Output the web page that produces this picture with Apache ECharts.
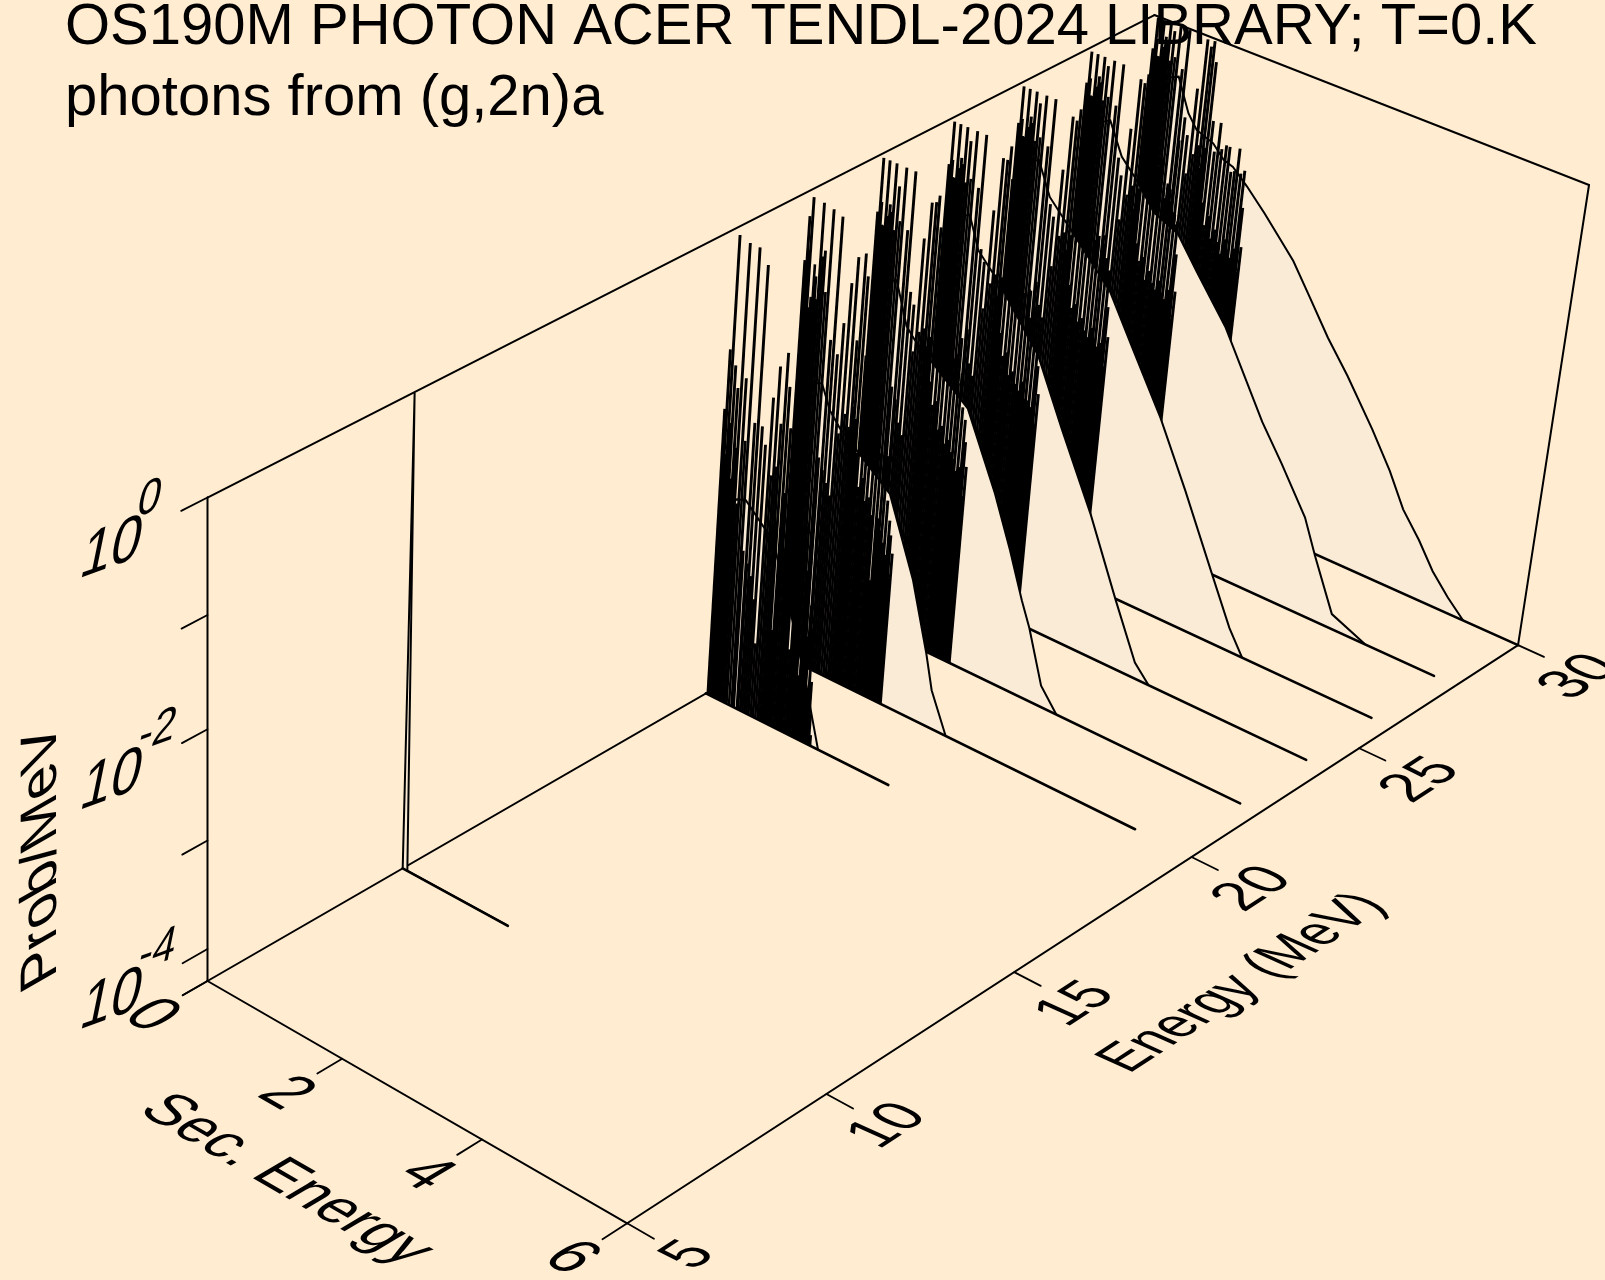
<!DOCTYPE html>
<html><head><meta charset="utf-8">
<style>html,body{margin:0;padding:0;background:#FFECD1}#c{width:1605px;height:1280px}</style>
<script src="https://cdn.jsdelivr.net/npm/echarts@6/dist/echarts.min.js"></script>
</head><body><div id="c"></div>
<script>
const titleLines = ['OS190M PHOTON ACER TENDL-2024 LIBRARY; T=0.K', 'photons from (g,2n)a'];
const secTicks = [0, 2, 4, 6];
const energyTicks = [5, 10, 15, 20, 25, 30];
const logProbMajor = [0, -2, -4];
const logProbMinor = [-1, -3];
const LOG_MIN = -4.301;

const incident = [30, 28, 26, 24, 22, 20, 18, 9.87];
const baselineEnd = [6, 5.7, 5.72, 5.72, 5.73, 5.22, 2.71, 1.57];

const contSec30 = [0.02,0.30,0.43,0.62,0.76,1.01,1.18,1.32,1.54,1.83,2.11,2.30,2.57,2.90,3.23,3.66,3.97,4.22,4.49,4.73,4.98,5.23];
const contLog30 = [-0.62,-0.50,-0.46,-0.75,-0.87,-0.93,-1.04,-1.07,-1.19,-1.37,-1.56,-1.69,-1.94,-2.25,-2.52,-2.91,-3.22,-3.52,-3.74,-3.97,-4.15,-4.30];
const contSec28 = [0.02,0.28,0.41,0.62,0.84,1.15,1.51,1.83,2.31,2.96,3.29,3.70,3.90,4.23,4.73];
const contLog28 = [-0.70,-0.60,-0.55,-0.83,-0.97,-1.21,-1.31,-1.58,-1.97,-2.68,-2.98,-3.38,-3.69,-4.16,-4.30];
const contSec26 = [0.02,0.25,0.36,0.56,0.83,1.52,1.92,2.40,2.85,3.35,3.67,3.89];
const contLog26 = [-0.80,-0.65,-0.60,-0.89,-1.06,-1.50,-1.93,-2.44,-3.00,-3.66,-4.08,-4.30];
const contSec24 = [0.02,0.25,0.38,0.54,0.87,1.51,1.93,2.45,2.91,3.27,3.49];
const contLog24 = [-1.00,-0.82,-0.77,-1.05,-1.26,-1.76,-2.32,-2.98,-3.65,-4.15,-4.30];
const contSec22 = [0.02,0.25,0.37,0.56,0.69,1.51,1.99,2.27,2.50,2.64,2.88,3.13];
const contLog22 = [-1.30,-1.08,-1.03,-1.40,-1.49,-1.89,-2.54,-2.99,-3.40,-3.62,-4.10,-4.30];
const contSec20 = [0.02,0.25,0.39,0.53,0.69,1.46,1.88,2.15,2.27,2.52];
const contLog20 = [-1.90,-1.66,-1.62,-1.83,-1.95,-2.33,-3.01,-3.62,-3.94,-4.30];
const contSec18 = [0.02,0.28,0.41,0.68,0.83,1.15,1.46,1.56,1.68];
const contLog18 = [-2.60,-2.36,-2.33,-2.49,-2.57,-3.15,-3.78,-4.02,-4.30];
const contSec10 = [0,0.01,0.07,1.57];
const contLog10 = [-4.30,0,-4.30,-4.30];

const lineSec = [0.03,0.06,0.10,0.15,0.20,0.25,0.31,0.39,0.47,0.52,0.58,0.64,0.71,0.78,0.84,0.88,0.93,0.98,1.04,1.09,1.14,1.20,1.25,1.30,1.35,1.39,1.44,1.49,1.52,1.56];
const lineLog18 = [-1.60,-1.05,-0.02,-1.17,-1.36,-0.05,-1.24,-0.05,-1.60,-0.17,-1.60,-1.75,-1.30,-1.00,-1.50,-0.85,-1.14,-1.50,-1.90,-1.70,-2.10,-2.00,-2.40,-2.30,-2.70,-2.60,-3.00,-3.20,-3.70,-4.20];
const lineLog20 = [-0.60,-0.20,-0.02,-0.90,-0.70,-0.03,-0.44,-0.05,-1.20,-0.08,-1.30,-1.00,-0.62,-0.37,-1.10,-0.31,-0.50,-1.20,-1.50,-1.40,-1.90,-1.70,-1.74,-2.00,-2.10,-2.00,-2.40,-2.57,-2.70,-2.86];
const lineLog22 = [-0.50,-0.01,-0.60,-0.01,-0.39,-0.01,-0.20,-0.01,-0.55,-0.01,-1.08,-1.18,-0.56,-0.22,-0.20,-0.13,-0.40,-0.90,-1.10,-1.00,-1.30,-1.20,-1.50,-1.45,-1.70,-1.60,-1.90,-2.00,-2.20,-2.42];
const lineLog24 = [-0.40,-0.01,-0.50,-0.01,-0.30,-0.01,-0.12,-0.01,-0.50,-0.01,-1.03,-1.13,-0.64,-0.15,-0.15,-0.02,-0.30,-0.75,-0.90,-0.80,-1.10,-1.00,-1.25,-1.20,-1.45,-1.35,-1.60,-1.60,-1.85,-2.10];
const lineLog26 = [-0.35,-0.01,-0.45,-0.01,-0.25,-0.01,-0.10,-0.01,-0.45,-0.01,-0.95,-1.05,-0.60,-0.10,-0.12,-0.01,-0.25,-0.65,-0.80,-0.70,-0.95,-0.85,-1.10,-1.05,-1.25,-1.10,-1.35,-1.35,-1.65,-1.92];
const lineLog28 = [-0.30,-0.01,-0.40,-0.01,-0.20,-0.01,-0.08,-0.01,-0.40,-0.01,-0.85,-1.00,-0.55,-0.08,-0.10,-0.01,-0.20,-0.55,-0.70,-0.60,-0.85,-0.70,-0.95,-0.90,-1.05,-0.48,-1.15,-1.20,-1.50,-1.84];
const lineLog30 = [-0.30,-0.01,-0.35,-0.01,-0.15,-0.01,-0.07,-0.01,-0.38,-0.01,-0.80,-0.95,-0.50,-0.03,-0.08,-0.02,-0.20,-0.73,-1.00,-0.72,-0.95,-0.90,-0.90,-1.12,-1.10,-0.88,-1.10,-1.06,-1.40,-1.76];

const fineSec = [0.045,0.08,0.125,0.175,0.225,0.28,0.35,0.42,0.485,0.55,0.61,0.675,0.745,0.81,0.86,0.905,0.955,1.01,1.065,1.115,1.17,1.225,1.275,1.325,1.37,1.415,1.465,1.505,1.54];
const fineLog18 = [-1.9,-2.0,-1.7,-2.2,-1.9,-2.4,-1.8,-2.8,-2.9,-3.0,-3.2,-3.6,-2.0,-1.9,-2.4,-3.4,-2.1,-2.6,-2.9,-2.5,-3.5,-2.8,-3.0,-3.7,-3.1,-3.3,-3.8,-3.9,-4.0];
const fineLog20 = [-0.7,-0.5,-1.0,-0.6,-0.9,-0.5,-0.8,-2.3,-2.4,-2.5,-2.6,-2.0,-1.8,-1.9,-1.7,-1.8,-2.1,-2.4,-2.3,-2.5,-2.45,-2.6,-3.2,-2.6,-2.7,-2.8,-2.9,-3.0,-3.1];
const fineLog22 = [-0.5,-0.4,-0.6,-0.5,-0.45,-0.6,-0.5,-2.0,-2.1,-2.3,-2.4,-1.6,-1.4,-1.35,-1.5,-1.4,-1.8,-2.0,-1.95,-2.2,-2.15,-2.3,-2.25,-2.35,-2.4,-2.5,-2.45,-2.6,-2.7];
const fineLog24 = [-0.45,-0.35,-0.5,-0.4,-0.35,-0.5,-0.45,-1.9,-1.8,-2.1,-2.2,-1.55,-1.3,-1.2,-1.4,-1.2,-1.7,-1.9,-1.85,-2.05,-2.0,-2.1,-2.15,-2.05,-2.2,-2.2,-2.25,-2.3,-2.4];
const fineLog26 = [-0.4,-0.3,-0.45,-0.35,-0.3,-0.45,-0.4,-1.8,-1.7,-1.9,-2.0,-1.5,-1.2,-1.15,-1.3,-1.15,-1.6,-1.8,-1.75,-1.9,-1.85,-1.95,-2.0,-1.9,-2.0,-2.05,-2.0,-2.1,-2.2];
const fineLog28 = [-0.35,-0.25,-0.4,-0.3,-0.25,-0.4,-0.35,-1.7,-1.6,-1.8,-1.9,-1.4,-1.15,-1.05,-1.25,-1.05,-1.55,-1.7,-1.65,-1.85,-1.75,-1.85,-1.9,-1.8,-1.9,-1.95,-1.85,-2.0,-2.1];
const fineLog30 = [-0.3,-0.2,-0.35,-0.25,-0.2,-0.35,-0.3,-1.6,-1.5,-1.7,-1.8,-1.3,-1.1,-1.0,-1.2,-1.0,-1.5,-1.7,-1.6,-1.8,-1.7,-1.8,-1.9,-1.75,-1.85,-1.9,-1.8,-1.95,-2.0];

const cont = {30:[contSec30,contLog30],28:[contSec28,contLog28],26:[contSec26,contLog26],24:[contSec24,contLog24],22:[contSec22,contLog22],20:[contSec20,contLog20],18:[contSec18,contLog18],9.87:[contSec10,contLog10]};
const lines = {30:lineLog30,28:lineLog28,26:lineLog26,24:lineLog24,22:lineLog22,20:lineLog20,18:lineLog18};
const fines = {30:fineLog30,28:fineLog28,26:fineLog26,24:fineLog24,22:fineLog22,20:fineLog20,18:fineLog18};

/* camera: homogeneous projection of the plot box onto the page */
const CAM = [[385.05,1060,-11.6,207.5],[174.7,-453.35,-511.3,981],[-0.05524,0.14384,-0.05592,1]];
function project(sec,E,logP){
  const p=[sec/6,(E-5)/25,(logP-LOG_MIN)/(0-LOG_MIN),1];
  const r=CAM.map(row=>row[0]*p[0]+row[1]*p[1]+row[2]*p[2]+row[3]);
  return [r[0]/r[2],r[1]/r[2]];
}
const BG='#FFECD1', FILL='#FAEBD7', INK='#000';
const FONT='"Liberation Sans",Arial,sans-serif';

/* text lying in a plane of the box: b = baseline vector, up = glyph-up vector */
function planeText(text,pos,b,up,size,anchor){
  const r=Math.atan2(-b[1],b[0]);
  const sb=Math.hypot(b[0],b[1]);
  const d=[-up[0],-up[1]];
  const p=d[0]*Math.cos(r)-d[1]*Math.sin(r);
  const q=d[0]*Math.sin(r)+d[1]*Math.cos(r);
  return {type:'text',x:pos[0],y:pos[1],rotation:r,scaleX:sb,scaleY:q,skewX:Math.atan(p/q),
    style:{text:text,font:size+'px '+FONT,fill:INK,align:anchor||'center',verticalAlign:'middle'},silent:true};
}
const seg=(api,a,b,w)=>{const A=api.coord(a),B=api.coord(b);return {type:'line',shape:{x1:A[0],y1:A[1],x2:B[0],y2:B[1]},style:{stroke:INK,lineWidth:w,fill:null,lineCap:'round'},silent:true};};

const series=[];
let z=2;
function custom(data,render){
  series.push({type:'custom',coordinateSystem:'cartesian2d',clip:false,silent:true,animation:false,z:z++,
    data:data,encode:{x:0,y:1},renderItem:render});
}

/* box walls and floor */
custom([[0,0]],(p,api)=>{
  const E0=energyTicks[0],E1=energyTicks[energyTicks.length-1],S1=secTicks[secTicks.length-1];
  const path=[[0,E0,0],[0,E0,LOG_MIN],[S1,E0,LOG_MIN],[S1,E1,LOG_MIN],[S1,E1,0],[0,E1,0],[0,E0,0]];
  const ch=[];
  for(let i=0;i<path.length-1;i++) ch.push(seg(api,project(...path[i]),project(...path[i+1]),2));
  ch.push(seg(api,project(0,E0,LOG_MIN),project(0,E1,LOG_MIN),2));
  return {type:'group',children:ch};
});

/* spectra back to front */
function spikes(E,secs,logs,w){
  custom(secs.map((s,k)=>[s,logs[k]]),(p,api)=>{
    const A=api.coord(project(api.value(0),E,LOG_MIN)),B=api.coord(project(api.value(0),E,api.value(1)));
    return {type:'line',shape:{x1:A[0],y1:A[1],x2:B[0],y2:B[1]},style:{stroke:INK,lineWidth:w,lineCap:'butt'},silent:true};
  });
}
incident.forEach((E,i)=>{
  const [cs,cl]=cont[E];
  custom([[E,0]],(p,api)=>{
    const pts=[api.coord(project(cs[0],E,LOG_MIN))];
    cs.forEach((s,k)=>pts.push(api.coord(project(s,E,cl[k]))));
    pts.push(api.coord(project(cs[cs.length-1],E,LOG_MIN)));
    return {type:'polygon',shape:{points:pts},style:{fill:FILL,stroke:null},silent:true};
  });
  if(lines[E]){ spikes(E,fineSec,fines[E],2.6); spikes(E,lineSec,lines[E],2.9); }
  custom([[E,0]],(p,api)=>{
    const pts=[];
    cs.forEach((s,k)=>pts.push(api.coord(project(s,E,cl[k]))));
    return {type:'polyline',shape:{points:pts},style:{fill:null,stroke:INK,lineWidth:2},silent:true};
  });
  custom([[E,0]],(p,api)=>seg(api,project(0,E,LOG_MIN),project(baselineEnd[i],E,LOG_MIN),2.6));
});

/* ticks and labels */
const uDir=[0.866,0.5], vDir=[0.86,-0.51];
custom([[0,0]],(p,api)=>{
  const ch=[];
  const E0=energyTicks[0],E1=energyTicks[energyTicks.length-1],S1=secTicks[secTicks.length-1];
  const tickV=0.6, tickS=0.36;
  logProbMajor.concat(logProbMinor,[LOG_MIN]).forEach(L=>ch.push(seg(api,project(0,E0,L),project(0,E0-tickV,L),1.8)));
  secTicks.forEach(s=>{
    ch.push(seg(api,project(s,E0,LOG_MIN),project(s,E0-tickV,LOG_MIN),1.8));
    const q=api.coord(project(s,E0,LOG_MIN));
    ch.push(planeText(String(s),[q[0]-57,q[1]+35],[uDir[0]*1.15,uDir[1]*1.15],[vDir[0]*1.35,vDir[1]*1.35],50));
  });
  energyTicks.forEach(e=>{
    ch.push(seg(api,project(S1,e,LOG_MIN),project(S1+tickS,e,LOG_MIN),1.8));
    const q=api.coord(project(S1,e,LOG_MIN));
    ch.push(planeText(String(e),[q[0]+62,q[1]+32],[0.84*1.1,-0.545*1.1],[-0.91*1.25,-0.41*1.25],50));
  });
  logProbMajor.forEach(L=>{
    const q=api.coord(project(0,E0,L));
    const b=[0.94*1.15,-0.34*1.15], up=[0.2*1.35,-0.98*1.35];
    ch.push(planeText('10',[q[0]-96,q[1]+52],b,up,50));
    ch.push(planeText(String(L),[q[0]-(L===0?58:50),q[1]+2],b,up,38));
  });
  ch.push(planeText('Prob/MeV',[42,856],[0,-1.16],[-0.87*1.18,0.5*1.18],50));
  ch.push(planeText('Energy (MeV)',[1243,983],[0.84*1.0,-0.545*1.0],[-0.91*1.22,-0.41*1.22],50));
  ch.push(planeText('Sec. Energy',[285.7,1180],[uDir[0]*1.14,uDir[1]*1.14],[vDir[0]*1.25,vDir[1]*1.25],50));
  return {type:'group',children:ch};
});

const chart=echarts.init(document.getElementById('c'),null,{renderer:'canvas'});
chart.setOption({
  backgroundColor:BG,animation:false,
  title:titleLines.map((t,i)=>({text:t,left:65,top:i===0?-1:70,padding:0,textStyle:{fontFamily:FONT,fontSize:58,fontWeight:'normal',color:INK}})),
  grid:{left:0,right:0,top:0,bottom:0},
  xAxis:{type:'value',min:0,max:1605,show:false},
  yAxis:{type:'value',min:0,max:1280,inverse:true,show:false},
  series:series
});
</script></body></html>
